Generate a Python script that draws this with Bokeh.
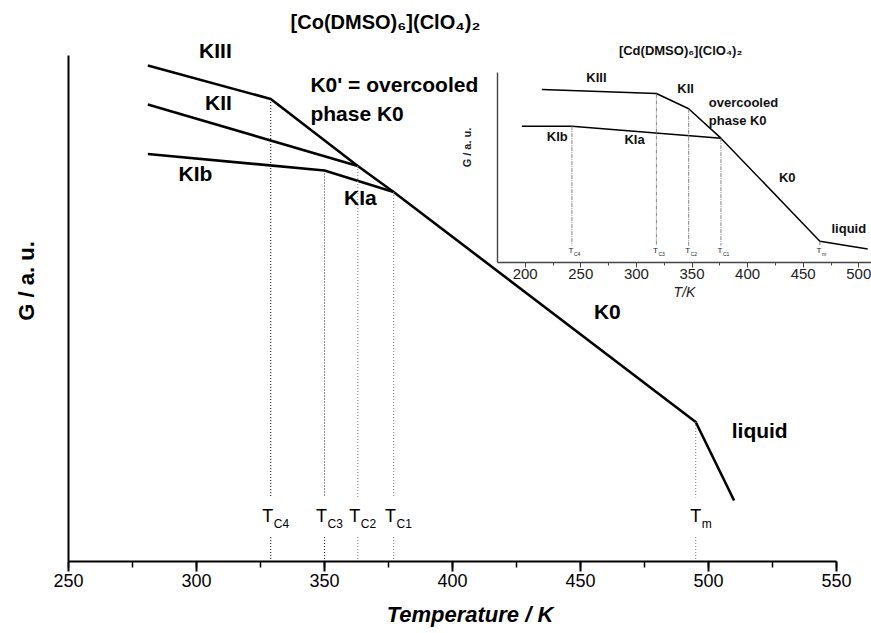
import math
from bokeh.plotting import figure
from bokeh.models import (Range1d, LinearAxis, SingleIntervalTicker, FixedTicker)
from bokeh.core.properties import value
from bokeh.embed import file_html
from bokeh.resources import INLINE

# ---------------- data: main chart [Co(DMSO)6](ClO4)2 ----------------
main_title = "[Co(DMSO)₆](ClO₄)₂"
# KIII -> K0' (overcooled K0) -> K0 -> liquid
kiii_T = [281, 329, 363, 377, 495, 510]
kiii_G = [99.2, 92.5, 79.1, 73.9, 27.9, 12.2]
kii_T = [281, 363]
kii_G = [91.4, 79.1]
kib_T = [281, 350, 377]
kib_G = [81.5, 78.2, 73.9]
trans_T = [329, 350, 363, 377, 495]
trans_G = [92.5, 78.2, 79.1, 73.9, 27.9]
trans_sub = ["C4", "C3", "C2", "C1", "m"]
phase_names = ["KIII", "KII", "KIb", "KIa", "K0' = overcooled", "phase K0", "K0", "liquid"]

# ---------------- data: inset [Cd(DMSO)6](ClO4)2 ----------------
inset_title = "[Cd(DMSO)₆](ClO₄)₂"
i_kiii_T = [215, 318, 347, 376, 465, 508]
i_kiii_G = [90.9, 88.8, 80.8, 65.4, 11.3, 7.3]
i_kib_T = [197, 242, 376]
i_kib_G = [71.7, 71.7, 65.4]
i_trans_T = [242, 318, 347, 376, 465]
i_trans_G = [71.7, 88.8, 80.8, 65.4, 11.3]
i_trans_sub = ["C4", "C3", "C2", "C1", "m"]
i_phase_names = ["KIII", "KII", "overcooled", "phase K0", "KIb", "KIa", "K0", "liquid"]

# ---------------- layout constants ----------------
W, H = 871, 633
BL, BB = 68, 72            # left / bottom borders
FW, FH = W - BL, H - BB    # frame size
FONT = value("Liberation Sans")

def span(v0, p0, v1, p1, lo, hi):
    s = (v1 - v0) / (p1 - p0)
    return Range1d(v0 + (lo - p0) * s, v0 + (hi - p0) * s)

# main: 250 K at frame px 68, 550 K at 836 ; G 0 at bottom, 101.2 at 506 px up
x_main = span(250, BL, 550, 836, BL, W)
y_main = span(0, 0, 101.2, 506, 0, FH)
# inset: 200 K at px 524.7, 500 K at 858.3 ; Gi 0 at 298.7 px up, 100 at 489.3
x_in = span(200, 524.7, 500, 858.3, BL, W)
y_in = span(0, 298.7, 100, 489.3, 0, FH)

p = figure(width=W, height=H, x_range=x_main, y_range=y_main,
           x_axis_type=None, y_axis_type=None,
           output_backend="svg", toolbar_location=None,
           min_border_left=BL, min_border_right=0, min_border_top=0,
           min_border_bottom=BB)
p.extra_x_ranges = {"ix": x_in}
p.extra_y_ranges = {"iy": y_in}
p.outline_line_color = None
p.background_fill_color = "white"
p.border_fill_color = "white"

# ---- main axes ----
xax = LinearAxis(ticker=SingleIntervalTicker(interval=50, num_minor_ticks=2),
                 bounds=(250, 550))
xax.axis_line_width = 2
xax.axis_line_color = "black"
xax.major_tick_line_color = "black"
xax.minor_tick_line_color = "black"
xax.major_tick_line_width = 2
xax.minor_tick_line_width = 1.5
xax.major_tick_out = 10
xax.major_tick_in = 0
xax.minor_tick_out = 6
xax.minor_tick_in = 0
xax.major_label_standoff = 2
xax.major_label_text_font = "Liberation Sans"
xax.major_label_text_font_size = "18px"
xax.major_label_text_color = "black"
xax.axis_label = "Temperature / K"
xax.axis_label_text_font = "Liberation Sans"
xax.axis_label_text_font_size = "22px"
xax.axis_label_text_font_style = "bold italic"
xax.axis_label_text_color = "black"
xax.axis_label_standoff = 12
p.add_layout(xax, "below")

yax = LinearAxis(ticker=FixedTicker(ticks=[]), bounds=(0, 101.2))
yax.axis_line_width = 2
yax.axis_line_color = "black"
yax.major_tick_line_color = None
yax.minor_tick_line_color = None
yax.axis_label = "G / a. u."
yax.axis_label_text_font = "Liberation Sans"
yax.axis_label_text_font_size = "22px"
yax.axis_label_text_font_style = "bold"
yax.axis_label_text_color = "black"
yax.axis_label_standoff = 30
p.add_layout(yax, "left")

# ---- main curves ----
for xs, ys in [(kiii_T, kiii_G), (kii_T, kii_G), (kib_T, kib_G)]:
    p.line(xs, ys, line_width=2.6, line_color="black")

# transition markers (dotted verticals with a gap for the label)
dot_col = ["#222", "#222", "#888", "#888", "#888"]
p.segment(x0=trans_T, y0=trans_G, x1=trans_T, y1=[12.8] * len(trans_T),
          line_color=dot_col, line_width=1.1, line_dash="1 2")
p.segment(x0=trans_T, y0=[4.9] * len(trans_T), x1=trans_T, y1=[0] * len(trans_T),
          line_color=dot_col, line_width=1.1, line_dash="1 2")
t_off = [-3 if s != "m" else 0 for s in trans_sub]
s_off = [3 if s != "m" else 6 for s in trans_sub]
p.text(x=trans_T, y=[9.2] * len(trans_T), text=["T"] * len(trans_T),
       x_offset=t_off, text_align="center", text_baseline="middle",
       text_font=FONT, text_font_size="18px", text_color="black")
p.text(x=trans_T, y=[9.2] * len(trans_T), text=trans_sub,
       x_offset=s_off, y_offset=8, text_align="left", text_baseline="middle",
       text_font=FONT, text_font_size="12px", text_color="black")

# phase labels (positions are layout)
main_lab_x = [307.4, 308.6, 299.6, 364.0, 344.5, 344.5, 460.5, 520.0]
main_lab_y = [102.2, 91.8, 77.6, 72.8, 95.4, 89.6, 50.0, 26.2]
main_lab_al = ["center", "center", "center", "center", "left", "left", "center", "center"]
p.text(x=main_lab_x, y=main_lab_y, text=phase_names, text_align=main_lab_al,
       text_baseline="middle", text_font=FONT, text_font_size="21px",
       text_font_style="bold", text_color="black")

# main title
p.text(x=[373.8], y=[108.0], text=[main_title], text_align="center",
       text_baseline="middle", text_font=FONT, text_font_size="20px",
       text_font_style="bold", text_color="black")

# ---------------- inset ----------------
ixax = LinearAxis(x_range_name="ix", y_range_name="iy", fixed_location=0,
                  ticker=SingleIntervalTicker(interval=50, num_minor_ticks=2),
                  bounds=(175.4, 520))
ixax.axis_line_color = "#444"
ixax.axis_line_width = 1.4
ixax.major_tick_line_color = "#444"
ixax.minor_tick_line_color = "#444"
ixax.major_tick_out = 5
ixax.major_tick_in = 0
ixax.minor_tick_out = 3
ixax.minor_tick_in = 0
ixax.major_label_standoff = 1
ixax.major_label_text_font = "Liberation Sans"
ixax.major_label_text_font_size = "15px"
ixax.major_label_text_color = "#222"
ixax.axis_label = "T/K"
ixax.axis_label_text_font = "Liberation Sans"
ixax.axis_label_text_font_size = "14px"
ixax.axis_label_text_font_style = "italic"
ixax.axis_label_text_color = "#222"
ixax.axis_label_standoff = 2
p.add_layout(ixax, "below")

iyax = LinearAxis(x_range_name="ix", y_range_name="iy", fixed_location=175.4,
                  ticker=FixedTicker(ticks=[]), bounds=(0, 100))
iyax.axis_line_color = "#444"
iyax.axis_line_width = 1.4
iyax.major_tick_line_color = None
iyax.minor_tick_line_color = None
p.add_layout(iyax, "left")

for xs, ys in [(i_kiii_T, i_kiii_G), (i_kib_T, i_kib_G)]:
    p.line(xs, ys, line_width=1.5, line_color="black",
           x_range_name="ix", y_range_name="iy")

p.segment(x0=i_trans_T, y0=i_trans_G, x1=i_trans_T, y1=[9.0] * len(i_trans_T),
          line_color="#777", line_width=0.9, line_dash="4 1 1 1",
          x_range_name="ix", y_range_name="iy")
p.text(x=i_trans_T, y=[6.3] * len(i_trans_T), text=["T"] * len(i_trans_T),
       x_offset=-1, text_align="center", text_baseline="middle",
       text_font=FONT, text_font_size="8px", text_color="#222",
       x_range_name="ix", y_range_name="iy")
p.text(x=i_trans_T, y=[6.3] * len(i_trans_T), text=i_trans_sub,
       x_offset=2, y_offset=3, text_align="left", text_baseline="middle",
       text_font=FONT, text_font_size="5px", text_color="#222",
       x_range_name="ix", y_range_name="iy")

in_lab_x = [264.1, 344.2, 365.1, 365.1, 228.8, 298.3, 435.6, 491.0]
in_lab_y = [97.2, 91.3, 84.3, 74.7, 66.3, 64.5, 44.9, 17.8]
in_lab_al = ["center", "center", "left", "left", "center", "center", "center", "center"]
p.text(x=in_lab_x, y=in_lab_y, text=i_phase_names, text_align=in_lab_al,
       text_baseline="middle", text_font=FONT, text_font_size="13px",
       text_font_style="bold", text_color="#111",
       x_range_name="ix", y_range_name="iy")

p.text(x=[339.7], y=[111.4], text=[inset_title], text_align="center",
       text_baseline="middle", text_font=FONT, text_font_size="13px",
       text_font_style="bold", text_color="#111",
       x_range_name="ix", y_range_name="iy")

p.text(x=[148.1], y=[60.5], text=["G / a. u."], angle=math.pi / 2,
       text_align="center", text_baseline="middle", text_font=FONT,
       text_font_size="11px", text_font_style="bold", text_color="#222",
       x_range_name="ix", y_range_name="iy")

open("out.html", "w").write(file_html(p, INLINE))
